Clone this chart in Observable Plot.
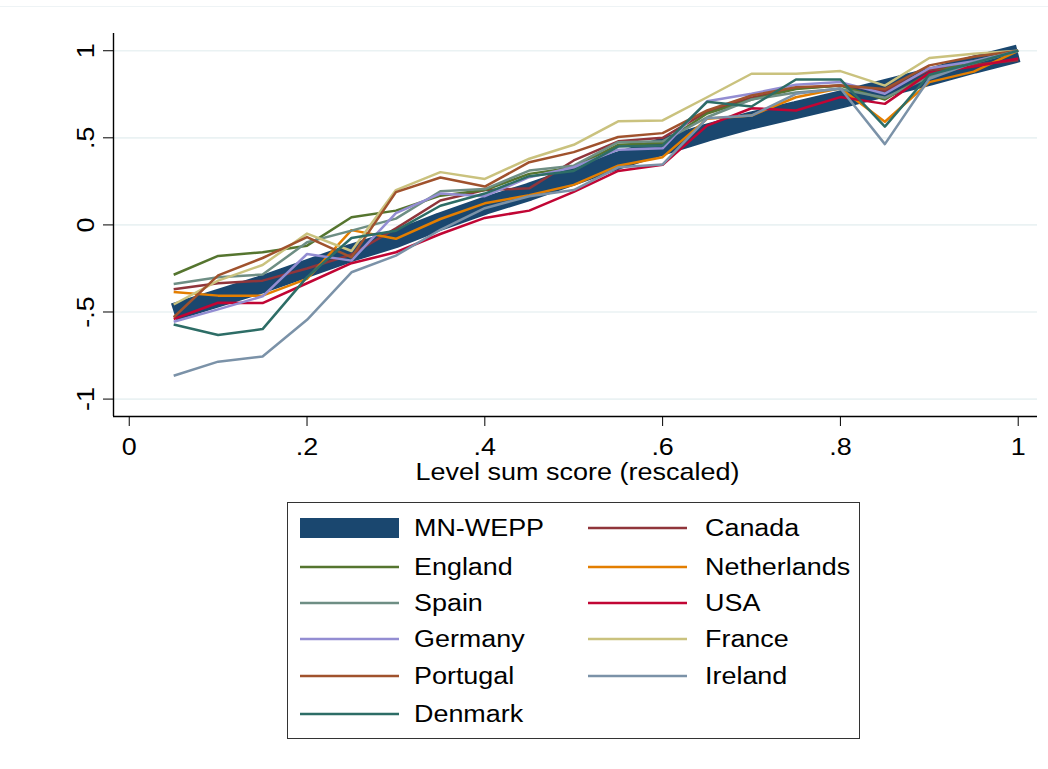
<!DOCTYPE html>
<html>
<head>
<meta charset="utf-8">
<script src="https://cdn.jsdelivr.net/npm/d3@7"></script>
<script src="https://cdn.jsdelivr.net/npm/@observablehq/plot@0.6"></script>
<style>
  html, body { margin: 0; padding: 0; background: #fff; }
  body { position: relative; width: 1048px; height: 769px; overflow: hidden; font-family: "Liberation Sans", Arial, sans-serif; }
  #topline { position: absolute; left: 0; top: 6px; width: 1048px; height: 0; border-top: 1px solid #eef3f5; }
  #chart { position: absolute; left: 0; top: 0; }
  #legend { position: absolute; left: 287px; top: 502px; width: 573px; height: 237px; border: 1px solid #333; box-sizing: border-box; }
  .item { position: absolute; height: 30px; }
  .item svg { position: absolute; left: 0; top: 0; }
  .item span { position: absolute; top: 0; line-height: 30px; font-size: 23px; color: #000; white-space: nowrap; display: inline-block; transform: scaleX(1.17); transform-origin: left center; }
</style>
</head>
<body>
<div id="topline"></div>
<div id="chart"></div>
<div id="legend"></div>
<script>
// ---- data ----
const xs = [0.05, 0.10, 0.15, 0.20, 0.25, 0.30, 0.35, 0.40, 0.45, 0.50, 0.55, 0.60, 0.65, 0.70, 0.75, 0.80, 0.85, 0.90, 0.95, 1.00];

const mnWepp      = [-0.50, -0.42, -0.34, -0.25, -0.16, -0.08, 0.02, 0.11, 0.19, 0.28, 0.37, 0.45, 0.53, 0.60, 0.66, 0.72, 0.785, 0.85, 0.92, 0.985];
const canada      = [-0.37, -0.335, -0.32, -0.25, -0.17, -0.02, 0.14, 0.20, 0.21, 0.37, 0.48, 0.50, 0.65, 0.73, 0.785, 0.80, 0.77, 0.89, 0.92, 0.945];
const england     = [-0.286, -0.178, -0.157, -0.119, 0.044, 0.082, 0.168, 0.20, 0.293, 0.33, 0.46, 0.47, 0.64, 0.72, 0.78, 0.80, 0.72, 0.87, 0.94, 1.00];
const netherlands = [-0.385, -0.406, -0.406, -0.31, -0.03, -0.08, 0.034, 0.124, 0.17, 0.23, 0.34, 0.389, 0.609, 0.628, 0.733, 0.785, 0.592, 0.82, 0.88, 1.00];
const spain       = [-0.339, -0.30, -0.285, -0.10, -0.033, 0.036, 0.193, 0.206, 0.312, 0.34, 0.475, 0.48, 0.618, 0.72, 0.76, 0.78, 0.73, 0.85, 0.93, 1.00];
const usa         = [-0.54, -0.447, -0.449, -0.335, -0.22, -0.157, -0.052, 0.04, 0.082, 0.19, 0.31, 0.345, 0.57, 0.67, 0.657, 0.734, 0.695, 0.873, 0.91, 0.955];
const germany     = [-0.556, -0.485, -0.41, -0.167, -0.205, 0.068, 0.18, 0.165, 0.274, 0.331, 0.432, 0.44, 0.71, 0.753, 0.805, 0.82, 0.753, 0.90, 0.94, 1.00];
const france      = [-0.457, -0.32, -0.23, -0.05, -0.15, 0.20, 0.303, 0.264, 0.38, 0.46, 0.595, 0.60, 0.733, 0.868, 0.868, 0.883, 0.80, 0.958, 0.983, 1.00];
const portugal    = [-0.53, -0.29, -0.19, -0.07, -0.186, 0.188, 0.272, 0.22, 0.36, 0.418, 0.505, 0.527, 0.657, 0.743, 0.79, 0.80, 0.78, 0.916, 0.965, 1.00];
const ireland     = [-0.866, -0.785, -0.756, -0.545, -0.272, -0.176, -0.028, 0.096, 0.165, 0.20, 0.331, 0.347, 0.612, 0.628, 0.753, 0.785, 0.464, 0.839, 0.934, 1.00];
const denmark     = [-0.572, -0.632, -0.598, -0.30, -0.075, -0.033, 0.11, 0.18, 0.28, 0.31, 0.45, 0.456, 0.707, 0.68, 0.835, 0.835, 0.564, 0.862, 0.93, 1.00];

const seriesNames  = ["MN-WEPP", "Canada", "England", "Netherlands", "Spain", "USA", "Germany", "France", "Portugal", "Ireland", "Denmark"];
const seriesValues = [mnWepp, canada, england, netherlands, spain, usa, germany, france, portugal, ireland, denmark];
const seriesColors = ["#1a476f", "#90353b", "#55752f", "#e37e00", "#6e8e84", "#c10534", "#938dd2", "#cac27e", "#a0522d", "#7b92a8", "#2d6d66"];

const xTicks = [0, 0.2, 0.4, 0.6, 0.8, 1];
const yTicks = [-1, -0.5, 0, 0.5, 1];
const xTitle = "Level sum score (rescaled)";

// ---- chart ----
const fmt = d => (d === 0 ? "0" : String(d).replace("0.", "."));
const xDom = [-0.0177, 1.0217];
const yDom = [-1.10, 1.099];

const rows = seriesNames.map((name, i) => xs.map((x, j) => ({series: name, x, y: seriesValues[i][j]})));

const marks = [
  Plot.ruleY(yTicks, {stroke: "#eaf2f3", strokeWidth: 1.6}),
  Plot.line(rows[0], {x: "x", y: "y", stroke: seriesColors[0], strokeWidth: 18, strokeLinecap: "butt", strokeLinejoin: "miter"})
];
for (let i = 1; i < seriesNames.length; i++) {
  marks.push(Plot.line(rows[i], {x: "x", y: "y", stroke: seriesColors[i], strokeWidth: 2.5, strokeLinejoin: "round", strokeLinecap: "butt"}));
}
marks.push(
  Plot.ruleX([xDom[0]], {stroke: "#000", strokeWidth: 1.4}),
  Plot.ruleY([yDom[0]], {stroke: "#000", strokeWidth: 1.4}),
  Plot.axisX(xTicks, {tickSize: 10, tickPadding: 12, tickFormat: fmt, label: null, stroke: "#000", fill: "#000"}),
  Plot.axisY(yTicks, {tickSize: 10, tickFormat: () => "", label: null, stroke: "#000"}),
  Plot.text(yTicks, {y: d => d, text: fmt, frameAnchor: "left", dx: -20, rotate: -90, textAnchor: "middle", lineAnchor: "bottom", fill: "#000"}),
  Plot.text([xTitle], {text: d => d, frameAnchor: "bottom", dy: 46, dx: 2, lineAnchor: "top", fontSize: 24, fill: "#000", className: "xtitle"})
);

const chart = Plot.plot({
  width: 1048,
  height: 500,
  marginLeft: 113,
  marginRight: 11,
  marginTop: 33,
  marginBottom: 84,
  x: {domain: xDom, axis: null},
  y: {domain: yDom, axis: null},
  style: {fontFamily: "'Liberation Sans', Arial, sans-serif", fontSize: "23px", color: "#000", background: "transparent", overflow: "visible"},
  marks
});

// stretch glyphs horizontally to match the reference's wide lettering
chart.querySelectorAll("text").forEach(t => {
  const isTitle = t.textContent === xTitle;
  const s = isTitle ? 1.125 : 1.17;
  const tr = t.getAttribute("transform");
  if (tr) {
    t.setAttribute("transform", tr + ` scale(${s},1)`);
  } else {
    const x = +(t.getAttribute("x") || 0), y = +(t.getAttribute("y") || 0);
    t.removeAttribute("x"); t.removeAttribute("y");
    t.setAttribute("transform", `translate(${x},${y}) scale(${s},1)`);
  }
});
document.getElementById("chart").appendChild(chart);

// ---- legend ----
const legend = document.getElementById("legend");
const rowTops = [527.3, 565.7, 601.7, 638.3, 675, 713.3];
seriesNames.forEach((name, i) => {
  const col = i % 2, row = Math.floor(i / 2);
  const item = document.createElement("div");
  item.className = "item";
  const left = (col === 0 ? 298.5 : 587) - 287;
  const textLeft = (col === 0 ? 413 : 704) - 287;
  item.style.left = left + "px";
  item.style.top = (rowTops[row] - 15 - 502) + "px";
  item.style.width = (textLeft - left + 180) + "px";
  const sw = i === 0
    ? `<svg width="100" height="30"><rect x="0" y="5" width="99" height="20" fill="${seriesColors[i]}"/></svg>`
    : `<svg width="100" height="30"><line x1="0" x2="99" y1="15" y2="15" stroke="${seriesColors[i]}" stroke-width="2.5"/></svg>`;
  item.innerHTML = sw + `<span style="left:${textLeft - left}px">${name}</span>`;
  legend.appendChild(item);
});
</script>
</body>
</html>
